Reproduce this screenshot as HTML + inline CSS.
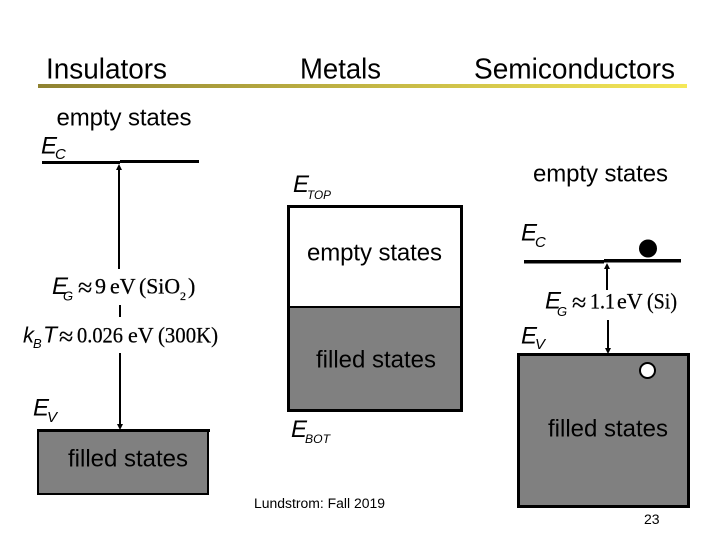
<!DOCTYPE html>
<html><head><meta charset="utf-8"><style>
html,body{margin:0;padding:0;background:#fff;width:720px;height:540px;overflow:hidden}
svg{display:block}
.s{font-family:"Liberation Sans",sans-serif;fill:#000}
.i{font-family:"Liberation Sans",sans-serif;font-style:italic;fill:#000}
.r{font-family:"Liberation Serif",serif;fill:#000;stroke:#000;stroke-width:.25}
</style></head><body>
<svg width="720" height="540" viewBox="0 0 720 540" xmlns="http://www.w3.org/2000/svg">
<defs><linearGradient id="g" x1="0" x2="1" y1="0" y2="0"><stop offset="0" stop-color="#8f8231"/><stop offset="1" stop-color="#f5e858"/></linearGradient></defs>
<rect x="38" y="84" width="649" height="4" fill="url(#g)"/>
<text class="s" x="46" y="78.500" font-size="29" textLength="121" lengthAdjust="spacingAndGlyphs">Insulators</text>
<text class="s" x="300" y="78.500" font-size="29" textLength="81" lengthAdjust="spacingAndGlyphs">Metals</text>
<text class="s" x="474" y="78.500" font-size="29" textLength="201" lengthAdjust="spacingAndGlyphs">Semiconductors</text>
<text class="s" x="56.500" y="125.500" font-size="24" textLength="135">empty states</text>
<text class="s" x="533" y="181.500" font-size="24" textLength="135">empty states</text>

<!-- Insulator -->
<rect x="42" y="161" width="78" height="3" fill="#000"/>
<rect x="120" y="160" width="79" height="3" fill="#000"/>
<path d="M119 164l-3 6h6z" fill="#000"/>
<rect x="118" y="169" width="2" height="100" fill="#000"/>
<rect x="119" y="305" width="2" height="12" fill="#000"/>
<rect x="119" y="353" width="2" height="72" fill="#000"/>
<path d="M120 430l-3-6h6z" fill="#000"/>
<rect x="38" y="430" width="170" height="64" fill="#808080" stroke="#000" stroke-width="2"/>
<rect x="38" y="429" width="172" height="3" fill="#000"/>
<text class="s" x="68" y="466.500" font-size="24" textLength="120">filled states</text>
<text class="i" x="41" y="153.500" font-size="24" textLength="16" lengthAdjust="spacingAndGlyphs">E</text><text class="i" x="55" y="159" font-size="15">C</text>
<text class="i" x="33" y="415.500" font-size="24" textLength="16" lengthAdjust="spacingAndGlyphs">E</text><text class="i" x="47" y="422" font-size="15">V</text>
<text class="i" x="52" y="294" font-size="24" textLength="16" lengthAdjust="spacingAndGlyphs">E</text><text class="i" x="63" y="300.500" font-size="13">G</text>
<text class="r" x="78" y="296" font-size="26">≈</text>
<text class="r" x="95" y="293.500" font-size="22">9</text>
<text class="r" x="110" y="293.500" font-size="22">eV</text>
<text class="r" x="139" y="293.500" font-size="22" textLength="41" lengthAdjust="spacingAndGlyphs">(SiO</text>
<text class="r" x="180" y="300" font-size="12">2</text>
<text class="r" x="188" y="293.500" font-size="22">)</text>
<text class="i" x="23" y="342.500" font-size="22">k</text><text class="i" x="33" y="348" font-size="13">B</text>
<text class="i" x="43" y="342.500" font-size="23">T</text>
<text class="r" x="59" y="345" font-size="26">≈</text>
<text class="r" x="77" y="342.500" font-size="22" textLength="46" lengthAdjust="spacingAndGlyphs">0.026</text>
<text class="r" x="128" y="342.500" font-size="22">eV</text>
<text class="r" x="158" y="342.500" font-size="22" textLength="60" lengthAdjust="spacingAndGlyphs">(300K)</text>

<!-- Metal -->
<rect x="289" y="207" width="173" height="100" fill="#fff"/>
<rect x="289" y="306" width="173" height="105" fill="#808080"/>
<rect x="288.500" y="206.500" width="173" height="204" fill="none" stroke="#000" stroke-width="3"/>
<rect x="289" y="306" width="172" height="2" fill="#000"/>
<text class="s" x="307" y="260.500" font-size="24" textLength="135">empty states</text>
<text class="s" x="316" y="367.500" font-size="24" textLength="120">filled states</text>
<text class="i" x="293" y="192" font-size="24" textLength="16" lengthAdjust="spacingAndGlyphs">E</text><text class="i" x="307" y="199" font-size="12" textLength="24" lengthAdjust="spacingAndGlyphs">TOP</text>
<text class="i" x="291" y="437" font-size="24" textLength="16" lengthAdjust="spacingAndGlyphs">E</text><text class="i" x="305" y="443" font-size="12" textLength="25" lengthAdjust="spacingAndGlyphs">BOT</text>

<!-- Semiconductor -->
<rect x="524" y="260" width="80" height="3.500" fill="#000"/>
<rect x="604" y="259" width="77" height="3.500" fill="#000"/>
<circle cx="648" cy="248.500" r="9" fill="#000"/>
<path d="M607 263l-3 6h6z" fill="#000"/>
<rect x="606" y="268" width="2" height="22" fill="#000"/>
<rect x="607" y="320" width="2" height="28" fill="#000"/>
<path d="M608 354l-3-6h6z" fill="#000"/>
<rect x="518.500" y="354.500" width="170" height="152" fill="#808080" stroke="#000" stroke-width="3"/>
<circle cx="647.500" cy="370.500" r="7.500" fill="#fff" stroke="#000" stroke-width="2"/>
<text class="s" x="548" y="436.500" font-size="24" textLength="120">filled states</text>
<text class="i" x="521" y="240.500" font-size="24" textLength="16" lengthAdjust="spacingAndGlyphs">E</text><text class="i" x="535" y="247" font-size="15">C</text>
<text class="i" x="521" y="343.500" font-size="24" textLength="16" lengthAdjust="spacingAndGlyphs">E</text><text class="i" x="535" y="349" font-size="15">V</text>
<text class="i" x="545" y="308.500" font-size="24" textLength="16" lengthAdjust="spacingAndGlyphs">E</text><text class="i" x="557" y="316" font-size="13">G</text>
<text class="r" x="572" y="311" font-size="26">≈</text>
<text class="r" x="590" y="308.500" font-size="22" textLength="25" lengthAdjust="spacingAndGlyphs">1.1</text>
<text class="r" x="617" y="308.500" font-size="22">eV</text>
<text class="r" x="647" y="308.500" font-size="22" textLength="30" lengthAdjust="spacingAndGlyphs">(Si)</text>

<text class="s" x="254" y="508" font-size="13.500" textLength="131" lengthAdjust="spacingAndGlyphs">Lundstrom: Fall 2019</text>
<text class="s" x="644" y="524" font-size="14">23</text>
</svg>
</body></html>
